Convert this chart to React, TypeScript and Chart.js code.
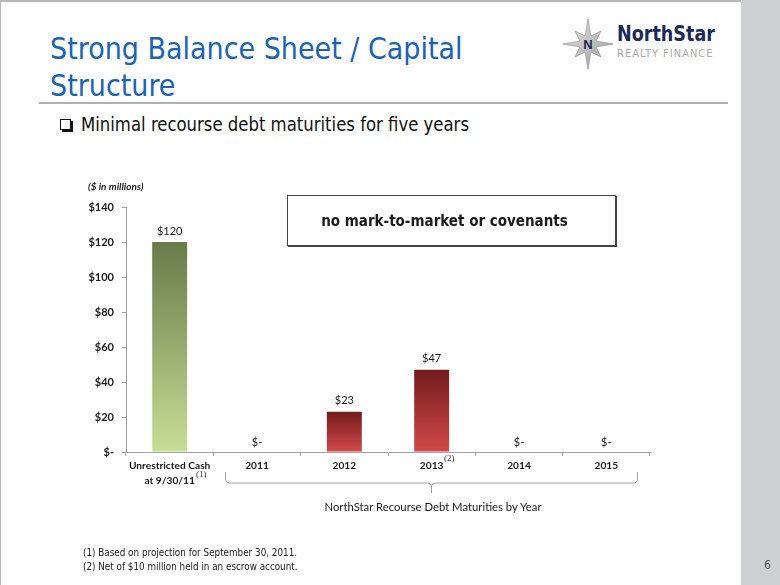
import React, { useEffect, useRef } from "react";
import { Chart, registerables } from "chart.js";

Chart.register(...registerables);

const categories: (string | string[])[] = [
  ["Unrestricted Cash", "at 9/30/11"],
  "2011",
  "2012",
  "2013",
  "2014",
  "2015",
];
const values: number[] = [120, 0, 23, 47, 0, 0];
const barKinds: string[] = ["cash", "debt", "debt", "debt", "debt", "debt"];
const yTicks: number[] = [0, 20, 40, 60, 80, 100, 120, 140];

const fmt = (v: number) => (v === 0 ? "$-" : "$" + v);

const GRAD: Record<string, [string, string]> = {
  cash: ["#677a49", "#c8de96"],
  debt: ["#731b1c", "#d24a4a"],
};

const valueLabels = {
  id: "valueLabels",
  afterDatasetsDraw(chart: any) {
    const ctx = chart.ctx;
    const meta = chart.getDatasetMeta(0);
    ctx.save();
    ctx.font = "11px Lato, 'Open Sans', sans-serif";
    ctx.fillStyle = "#1a1a1a";
    ctx.textAlign = "center";
    ctx.textBaseline = "middle";
    meta.data.forEach((bar: any, i: number) => {
      const v = values[i];
      const y = v === 0 ? bar.y - 10 : bar.y - 11;
      ctx.fillText(fmt(v), bar.x, y);
    });
    ctx.restore();
  },
};

function ChartCanvas() {
  const ref = useRef<HTMLCanvasElement | null>(null);
  useEffect(() => {
    if (!ref.current) return;
    const chart = new Chart(ref.current, {
      type: "bar",
      data: {
        labels: categories,
        datasets: [
          {
            data: values,
            backgroundColor: (c: any) => {
              const ch = c.chart;
              const kind = barKinds[c.dataIndex] || "debt";
              const ys = ch.scales && ch.scales.y;
              if (!ys || c.dataIndex === undefined) return GRAD[kind][1];
              const v = values[c.dataIndex];
              const top = ys.getPixelForValue(v);
              const bot = ys.getPixelForValue(0);
              if (!Number.isFinite(top) || !Number.isFinite(bot) || bot - top < 1) return GRAD[kind][1];
              const g = ch.ctx.createLinearGradient(0, top, 0, bot);
              g.addColorStop(0, GRAD[kind][0]);
              g.addColorStop(1, GRAD[kind][1]);
              return g;
            },
            borderWidth: 0,
            categoryPercentage: 1,
            barPercentage: 0.4,
          },
        ],
      },
      options: {
        responsive: false,
        animation: false,
        layout: { padding: { left: 80, right: 130, top: 207, bottom: 93 } },
        plugins: { legend: { display: false }, tooltip: { enabled: false } },
        scales: {
          x: {
            grid: { drawOnChartArea: false, tickLength: 4, color: "#a0a0a0", offset: true },
            border: { color: "#a0a0a0" },
            ticks: {
              color: "#1a1a1a",
              padding: 3,
              maxRotation: 0,
              autoSkip: false,
              font: { family: "Lato, 'Open Sans', sans-serif", size: 10.2, weight: "bold", lineHeight: 1.4 },
            },
            afterFit: (s: any) => {
              s.height = 40;
            },
          },
          y: {
            min: 0,
            max: 140,
            afterBuildTicks: (s: any) => {
              s.ticks = yTicks.map((v) => ({ value: v }));
            },
            grid: { drawOnChartArea: false, tickLength: 4, color: "#a0a0a0" },
            border: { color: "#a0a0a0" },
            ticks: {
              color: "#1a1a1a",
              padding: 8,
              callback: (v: any) => fmt(Number(v)),
              font: { family: "Lato, 'Open Sans', sans-serif", size: 11, weight: "bold" },
            },
            afterFit: (s: any) => {
              s.width = 46;
            },
          },
        },
      },
      plugins: [valueLabels],
    });
    return () => chart.destroy();
  }, []);
  return (
    <canvas
      ref={ref}
      width={780}
      height={585}
      style={{ position: "absolute", left: 0, top: 0, width: 780, height: 585 }}
    />
  );
}

const abs = (s: React.CSSProperties): React.CSSProperties => ({ position: "absolute", ...s });

export default function App() {
  const titleFont = "'DejaVu Sans Condensed', 'Liberation Sans Narrow', 'Liberation Sans', sans-serif";
  const bodyFont = "'DejaVu Sans Condensed', 'Liberation Sans', sans-serif";
  return (
    <div
      style={{
        position: "fixed",
        left: 0,
        top: 0,
        width: 780,
        height: 585,
        background: "#ffffff",
        overflow: "hidden",
        fontFamily: bodyFont,
      }}
    >
      {/* frame lines */}
      <div style={abs({ left: 0, top: 0, width: 780, height: 2, background: "#b8b8b8" })} />
      <div style={abs({ left: 0, top: 0, width: 1, height: 585, background: "#b8b8b8" })} />
      {/* side bar */}
      <div style={abs({ left: 741, top: 0, width: 39, height: 585, background: "#cfd0d2" })} />
      <div style={abs({ left: 764, top: 558, width: 14, fontSize: 12, color: "#555", fontFamily: bodyFont })}>6</div>

      {/* title */}
      <div
        style={abs({
          left: 50,
          top: 30,
          fontSize: 30,
          lineHeight: "37px",
          color: "#1b63b4",
          fontFamily: titleFont,
          whiteSpace: "nowrap",
        })}
      >
        Strong Balance Sheet / Capital
        <br />
        Structure
      </div>
      <div style={abs({ left: 39, top: 102, width: 689, height: 2, background: "#b3aebf" })} />

      {/* logo */}
      <svg style={abs({ left: 560, top: 16, width: 56, height: 56 })} viewBox="0 0 56 56">
        <defs>
          <linearGradient id="sg" x1="0" y1="0" x2="1" y2="1">
            <stop offset="0" stopColor="#e8e8e8" />
            <stop offset="1" stopColor="#9a9a9a" />
          </linearGradient>
        </defs>
        <polygon
          points="28,3 31,20 41,15 36,25 53,28 36,31 41,41 31,36 28,53 25,36 15,41 20,31 3,28 20,25 15,15 25,20"
          fill="url(#sg)"
          stroke="#8a8a8a"
          strokeWidth="0.6"
        />
        <text x="28" y="33" textAnchor="middle" fontSize="13" fontWeight="bold" fill="#1a2856" fontFamily="'Liberation Sans', sans-serif">
          N
        </text>
      </svg>
      <div style={abs({ left: 617, top: 22, fontSize: 21, fontWeight: "bold", color: "#1c2a5a", fontFamily: titleFont, whiteSpace: "nowrap", transform: "scaleX(0.93)", transformOrigin: "left top" })}>
        NorthStar
      </div>
      <div style={abs({ left: 617, top: 47, fontSize: 11, color: "#a8a8a8", letterSpacing: 1, fontFamily: titleFont, whiteSpace: "nowrap" })}>
        REALTY FINANCE
      </div>

      {/* bullet */}
      <div style={abs({ left: 60, top: 119, width: 11, height: 11, border: "1.5px solid #111", boxShadow: "2px 2px 0 #111", boxSizing: "border-box" })} />
      <div style={abs({ left: 81, top: 112, fontSize: 20, color: "#111", fontFamily: bodyFont, whiteSpace: "nowrap", transform: "scaleX(0.917)", transformOrigin: "left top" })}>
        Minimal recourse debt maturities for five years
      </div>

      <ChartCanvas />

      {/* chart annotations */}
      <div style={abs({ left: 88, top: 180, fontSize: 10, fontStyle: "italic", fontWeight: "bold", color: "#222", fontFamily: "Lato, sans-serif", whiteSpace: "nowrap" })}>
        ($ in millions)
      </div>
      <div
        style={abs({
          left: 287,
          top: 195,
          width: 329,
          height: 51,
          border: "1px solid #444",
          boxShadow: "1px 1px 0 #444",
          boxSizing: "border-box",
          background: "#fff",
          paddingRight: 14,
          display: "flex",
          alignItems: "center",
          justifyContent: "center",
          fontSize: 15,
          fontWeight: "bold",
          color: "#1a1a1a",
          fontFamily: bodyFont,
        })}
      >
        no mark-to-market or covenants
      </div>
      <div style={abs({ left: 196, top: 469, fontSize: 9, color: "#333", fontFamily: "'Liberation Serif', serif" })}>(1)</div>
      <div style={abs({ left: 444, top: 453, fontSize: 9, color: "#333", fontFamily: "'Liberation Serif', serif" })}>(2)</div>
      <svg style={abs({ left: 0, top: 0, width: 780, height: 585, pointerEvents: "none" })}>
        <path
          d="M225.5,472 L225.5,479 Q225.5,483 229.5,483 L427,483 Q431.5,483 431.5,487 L431.5,493 M431.5,487 Q431.5,483 436,483 L633,483 Q637.5,483 637.5,479 L637.5,472"
          fill="none"
          stroke="#a0a0a0"
          strokeWidth="1"
        />
      </svg>
      <div style={abs({ left: 233, top: 500, width: 400, textAlign: "center", fontSize: 11.3, color: "#1a1a1a", fontFamily: "Lato, sans-serif" })}>
        NorthStar Recourse Debt Maturities by Year
      </div>

      {/* footnotes */}
      <div style={abs({ left: 83, top: 546, fontSize: 11, lineHeight: "14px", color: "#1a1a1a", fontFamily: bodyFont, whiteSpace: "nowrap", transform: "scaleX(0.89)", transformOrigin: "left top" })}>
        (1) Based on projection for September 30, 2011.
        <br />
        (2) Net of $10 million held in an escrow account.
      </div>
    </div>
  );
}
